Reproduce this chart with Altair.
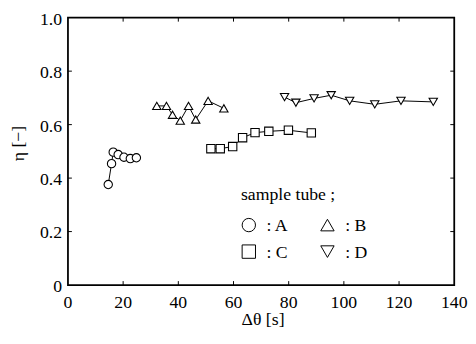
import altair as alt
import pandas as pd

# Sample tube A (circles)
a_x = [14.6, 15.8, 16.4, 18.2, 20.3, 22.6, 24.8]
a_y = [0.376, 0.454, 0.497, 0.488, 0.478, 0.473, 0.476]
# Sample tube B (triangle up)
b_x = [32.2, 35.7, 37.9, 40.7, 43.7, 46.3, 50.8, 56.5]
b_y = [0.670, 0.670, 0.637, 0.615, 0.670, 0.619, 0.689, 0.661]
# Sample tube C (squares)
c_x = [51.8, 55.2, 59.7, 63.3, 67.8, 72.8, 79.9, 88.2]
c_y = [0.510, 0.510, 0.518, 0.551, 0.570, 0.575, 0.579, 0.569]
# Sample tube D (triangle down)
d_x = [78.5, 82.6, 89.2, 95.4, 102.1, 111.2, 120.7, 132.4]
d_y = [0.703, 0.682, 0.698, 0.710, 0.689, 0.676, 0.689, 0.685]

tubes = ["A", "B", "C", "D"]
shapes = ["circle", "triangle-up", "square", "triangle-down"]

x_ticks = [0, 20, 40, 60, 80, 100, 120, 140]
x_tick_labels = ["0", "20", "40", "60", "80", "100", "120", "140"]
y_ticks = [0, 0.2, 0.4, 0.6, 0.8, 1.0]
y_tick_labels = ["0", "0.2", "0.4", "0.6", "0.8", "1.0"]

x_title = "Δθ [s]"
y_title = "η [−]"
legend_title = "sample tube ;"

rows = []
for name, xs_, ys_ in [("A", a_x, a_y), ("B", b_x, b_y), ("C", c_x, c_y), ("D", d_x, d_y)]:
    for i, (xv, yv) in enumerate(zip(xs_, ys_)):
        rows.append({"tube": name, "dt": xv, "eta": yv, "order": i})
df = pd.DataFrame(rows)

FONT = "Liberation Serif"
FS = 18
W, H = 393, 272

xs = alt.Scale(domain=[0, 140], nice=False, zero=False)
ys = alt.Scale(domain=[0, 1], nice=False, zero=False)
shape_scale = alt.Scale(domain=tubes, range=shapes)

base = alt.Chart(df)

lines = base.mark_line(color="black", strokeWidth=1).encode(
    x=alt.X("dt:Q", scale=xs, axis=None),
    y=alt.Y("eta:Q", scale=ys, axis=None),
    detail="tube:N",
    order="order:Q",
)

points = base.mark_point(filled=True, fill="white", stroke="black", strokeWidth=1.1,
                         size=72, opacity=1).encode(
    x=alt.X("dt:Q", scale=xs, axis=None),
    y=alt.Y("eta:Q", scale=ys, axis=None),
    shape=alt.Shape("tube:N", scale=shape_scale, legend=None),
)

xt = pd.DataFrame({"v": x_ticks[1:-1]})
yt = pd.DataFrame({"v": y_ticks[1:-1]})
xl = pd.DataFrame({"v": x_ticks, "t": x_tick_labels})
yl = pd.DataFrame({"v": y_ticks, "t": y_tick_labels})

rule = dict(color="black", strokeWidth=1)
tick_bottom = alt.Chart(xt).mark_rule(**rule).encode(
    x=alt.X("v:Q", scale=xs, axis=None), y=alt.value(H), y2=alt.value(H - 4))
tick_top = alt.Chart(xt).mark_rule(**rule).encode(
    x=alt.X("v:Q", scale=xs, axis=None), y=alt.value(0), y2=alt.value(4))
tick_left = alt.Chart(yt).mark_rule(**rule).encode(
    y=alt.Y("v:Q", scale=ys, axis=None), x=alt.value(0), x2=alt.value(4))
tick_right = alt.Chart(yt).mark_rule(**rule).encode(
    y=alt.Y("v:Q", scale=ys, axis=None), x=alt.value(W), x2=alt.value(W - 4))

txt = dict(font=FONT, fontSize=FS, color="black")
x_labels = alt.Chart(xl).mark_text(align="center", baseline="middle", **txt).encode(
    x=alt.X("v:Q", scale=xs, axis=None), y=alt.value(H + 18), text="t:N")
y_labels = alt.Chart(yl).mark_text(align="right", baseline="middle", dy=2, **txt).encode(
    y=alt.Y("v:Q", scale=ys, axis=None), x=alt.value(-6), text="t:N")

x_title_mark = alt.Chart(pd.DataFrame({"t": [x_title]})).mark_text(
    align="center", baseline="middle", **txt).encode(
    x=alt.value(W / 2 + 2), y=alt.value(H + 36), text="t:N")
y_title_mark = alt.Chart(pd.DataFrame({"t": [y_title]})).mark_text(
    align="center", baseline="middle", angle=270, **txt).encode(
    x=alt.value(-50), y=alt.value(128), text="t:N")

# legend (annotation inside the plot)
leg_title = alt.Chart(pd.DataFrame({"t": [legend_title]})).mark_text(
    align="left", baseline="middle", **txt).encode(
    x=alt.value(176), y=alt.value(180), text="t:N")

leg_pos = {"A": (184, 211), "B": (264, 211), "C": (184, 238), "D": (264, 238)}
leg_layers = []
for name, shp in zip(tubes, shapes):
    px, py = leg_pos[name]
    d = pd.DataFrame({"t": [":  " + name]})
    leg_layers.append(alt.Chart(d).mark_point(
        shape=shp, filled=True, fill="white", stroke="black", strokeWidth=1,
        size=185, opacity=1).encode(x=alt.value(px), y=alt.value(py)))
    leg_layers.append(alt.Chart(d).mark_text(align="left", baseline="middle", **txt).encode(
        x=alt.value(px + 18), y=alt.value(py + 1), text="t:N"))

chart = alt.layer(lines, points, tick_bottom, tick_top, tick_left, tick_right,
                  x_labels, y_labels, x_title_mark, y_title_mark, leg_title,
                  *leg_layers).properties(
    width=W, height=H,
    padding={"left": 61, "top": 7, "right": 14, "bottom": 49},
    autosize=alt.AutoSizeParams(type="none"),
    background="white",
).configure_view(
    stroke="black", strokeWidth=1.8
)

chart.save("out.html", embed_options={"renderer": "svg", "actions": False})
